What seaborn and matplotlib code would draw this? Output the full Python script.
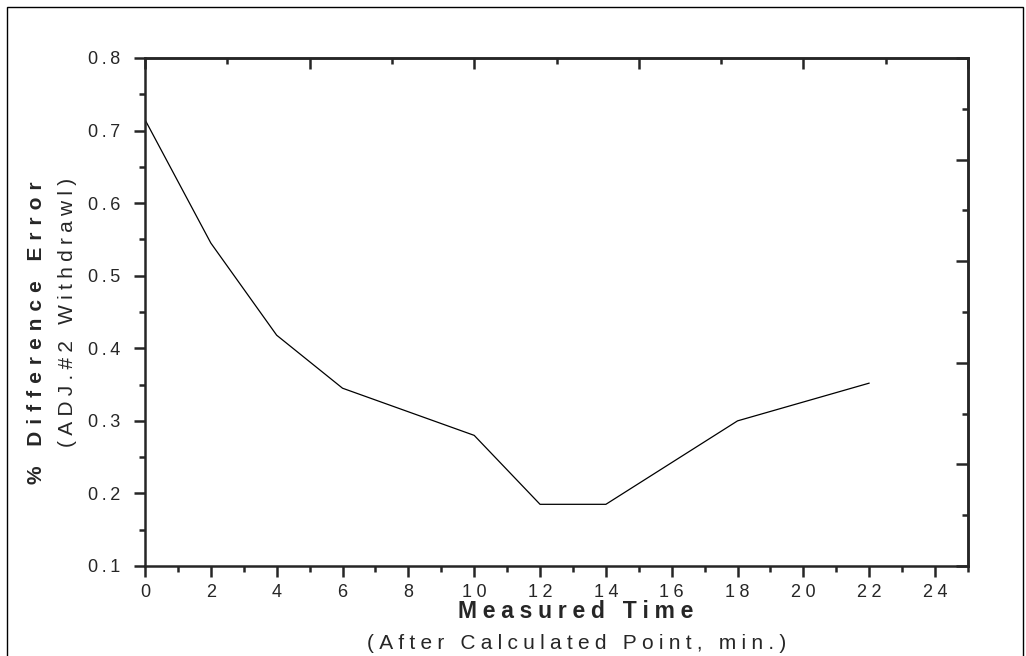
import matplotlib
matplotlib.use("Agg")
import matplotlib.pyplot as plt
import seaborn as sns
import pandas as pd
import numpy as np
from matplotlib.patches import Rectangle
from matplotlib.ticker import MultipleLocator, FixedLocator

# ---- data ----
time_min = [0, 2, 4, 6, 10, 12, 14, 18, 22]
pct_error = [0.715, 0.545, 0.418, 0.345, 0.280, 0.185, 0.185, 0.300, 0.352]
x_ticks = [0, 2, 4, 6, 8, 10, 12, 14, 16, 18, 20, 22, 24]
y_ticks = [0.1, 0.2, 0.3, 0.4, 0.5, 0.6, 0.7, 0.8]

xlabel_main = "Measured Time"
xlabel_sub = "(After Calculated Point, min.)"
ylabel_main = "% Difference Error"
ylabel_sub = "(ADJ.#2 Withdrawl)"

sns.set_style("ticks")
FAM = ["Liberation Sans", "DejaVu Sans"]
plt.rcParams["font.family"] = FAM


def spaced(s, sp="\u2009"):
    return sp.join(list(s))


W, H = 1026, 656
fig = plt.figure(figsize=(W / 100, H / 100), dpi=100)
ax = fig.add_axes([145 / W, 1 - 566 / H, (968 - 145) / W, (566 - 58) / H])

df = pd.DataFrame({"t": time_min, "e": pct_error})
sns.lineplot(data=df, x="t", y="e", ax=ax, color="black", linewidth=0.9,
             estimator=None, sort=False)

ax.set_xlim(0, 25)
ax.set_ylim(0.1, 0.8)
ax.set_xlabel("")
ax.set_ylabel("")

lw = 1.8
for s in ax.spines.values():
    s.set_linewidth(lw)
    s.set_visible(True)

ax.xaxis.set_major_locator(FixedLocator(x_ticks))
ax.xaxis.set_minor_locator(MultipleLocator(1))
ax.yaxis.set_major_locator(FixedLocator(y_ticks))
ax.yaxis.set_minor_locator(MultipleLocator(0.05))
ax.set_xticklabels([spaced(str(v), "\u2005") for v in x_ticks])
ax.set_yticklabels([spaced(f"{v:.1f}") for v in y_ticks])
ax.tick_params(axis="both", which="major", direction="out", length=8, width=lw,
               labelsize=13, top=False, right=False)
ax.tick_params(axis="x", which="major", pad=5)
ax.tick_params(axis="y", which="major", pad=10)
ax.tick_params(axis="both", which="minor", direction="out", length=4.3, width=lw,
               top=False, right=False)

# top frame ticks (inward)
sec_x = ax.secondary_xaxis("top")
sec_x.set_xticks(np.arange(0, 26, 5))
sec_x.xaxis.set_minor_locator(MultipleLocator(2.5))
sec_x.tick_params(which="major", direction="in", length=8, width=lw, labeltop=False)
sec_x.tick_params(which="minor", direction="in", length=4.3, width=lw)
sec_x.spines["top"].set_linewidth(lw)

# right frame ticks (inward)
sec_y = ax.secondary_yaxis("right")
sec_y.set_yticks(np.linspace(0.1, 0.8, 6))
sec_y.yaxis.set_minor_locator(FixedLocator(np.linspace(0.17, 0.73, 5)))
sec_y.tick_params(which="major", direction="in", length=8.5, width=lw, labelright=False)
sec_y.tick_params(which="minor", direction="in", length=4.3, width=lw)
sec_y.spines["right"].set_linewidth(lw)

# axis titles
fig.text(576 / W, 1 - 618 / H, spaced(xlabel_main, "\u2005"), ha="center",
         va="baseline", fontsize=16.5, fontweight="bold")
fig.text(577 / W, 1 - 649 / H, spaced(xlabel_sub, "\u2005"), ha="center",
         va="baseline", fontsize=15)
fig.text(42 / W, 1 - 333 / H, spaced(ylabel_main, "\u2004"), ha="center",
         va="baseline", fontsize=15, fontweight="bold", rotation=90,
         rotation_mode="anchor")
fig.text(73 / W, 1 - 312 / H, spaced(ylabel_sub, "\u2005"), ha="center",
         va="baseline", fontsize=15, rotation=90, rotation_mode="anchor")

# outer border
fig.patches.append(Rectangle((7 / W, -0.02), (1023 - 7) / W, 1 - 7 / H + 0.02,
                             transform=fig.transFigure, fill=False,
                             edgecolor="black", linewidth=1.0))

fig.savefig("out.png", dpi=100)
